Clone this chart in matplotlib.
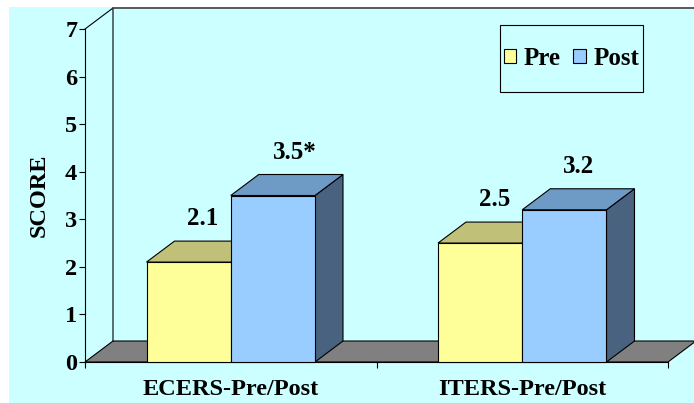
import matplotlib
matplotlib.use("Agg")
import matplotlib.pyplot as plt
from matplotlib.patches import Polygon, Rectangle, Patch

# ---- data ----
categories = ["ECERS-Pre/Post", "ITERS-Pre/Post"]
series_names = ["Pre", "Post"]
pre_values = [2.1, 2.5]
post_values = [3.5, 3.2]
value_labels_pre = ["2.1", "2.5"]
value_labels_post = ["3.5*", "3.2"]
y_ticks = [0, 1, 2, 3, 4, 5, 6, 7]

# ---- styles ----
FONT = "Liberation Serif"
FS = 17.5
front_colors = ["#FFFF99", "#99CCFF"]
top_colors = ["#C0C078", "#6E9AC6"]
side_colors = ["#80804C", "#48627F"]
BG = "#CCFFFF"
FLOOR = "#808080"
LW = 0.8

W, H = 694, 403
fig = plt.figure(figsize=(W / 100, H / 100), dpi=100)
fig.patch.set_facecolor("white")
fig.add_artist(Rectangle((9 / W, 0), (W - 9) / W, 1 - 7 / H, transform=fig.transFigure,
                         facecolor=BG, edgecolor="none", zorder=-10))

ax_l, ax_r, ax_t, ax_b = 85, 668, 29, 362
ax = fig.add_axes([ax_l / W, 1 - ax_b / H, (ax_r - ax_l) / W, (ax_b - ax_t) / H])
ax.patch.set_alpha(0)
xmin, xmax, ymin, ymax = -0.5, 1.5, 0, 7
ax.set_xlim(xmin, xmax)
ax.set_ylim(ymin, ymax)

# depth of the 3D effect (28 px right, 21 px up) in data units
DX = 28 * (xmax - xmin) / (ax_r - ax_l)
DY = 21 * (ymax - ymin) / (ax_b - ax_t)

# floor
ax.add_patch(Polygon([(xmin, 0), (xmax, 0), (xmax + DX, DY), (xmin + DX, DY)],
                     closed=True, facecolor=FLOOR, edgecolor="black", lw=LW,
                     clip_on=False, zorder=1))
# walls
ax.plot([xmin, xmin + DX, xmin + DX], [ymax, ymax + DY, DY], color="black", lw=LW,
        clip_on=False, zorder=1)
ax.plot([xmin + DX, xmax + DX], [ymax + DY, ymax + DY], color="#404040", lw=1.2,
        clip_on=False, zorder=1)

BW = 0.289


def bar3d(x0, h, i):
    x1 = x0 + BW
    side = Polygon([(x1, 0), (x1 + DX, DY), (x1 + DX, h + DY), (x1, h)], closed=True,
                   facecolor=side_colors[i], edgecolor="black", lw=LW, clip_on=False, zorder=3)
    top = Polygon([(x0, h), (x1, h), (x1 + DX, h + DY), (x0 + DX, h + DY)], closed=True,
                  facecolor=top_colors[i], edgecolor="black", lw=LW, clip_on=False, zorder=3)
    front = Rectangle((x0, 0), BW, h, facecolor=front_colors[i], edgecolor="black",
                      lw=LW, clip_on=False, zorder=4)
    for p in (side, top, front):
        ax.add_patch(p)


for c in range(len(categories)):
    bar3d(c - BW, pre_values[c], 0)
    bar3d(c, post_values[c], 1)

label_kw = dict(textcoords="offset points", ha="center", va="baseline",
                fontsize=18, fontweight="bold", family=FONT, zorder=6,
                annotation_clip=False)
for c in range(len(categories)):
    ax.annotate(value_labels_pre[c], (c - BW / 2 + DX / 2, pre_values[c] + DY),
                xytext=(0, 11.5), **label_kw)
    lab = value_labels_post[c]
    shift = 5.5 if lab.endswith("*") else 0
    ax.annotate(lab, (c + BW / 2 + DX / 2, post_values[c] + DY),
                xytext=(shift, 11.5), **label_kw)

# axes / ticks
for s in ("top", "right"):
    ax.spines[s].set_visible(False)
ax.spines["left"].set_linewidth(LW)
ax.spines["bottom"].set_linewidth(LW)
ax.set_yticks(y_ticks)
ax.set_yticklabels([str(t) for t in y_ticks], fontsize=FS, fontweight="bold", family=FONT)
ax.tick_params(axis="y", length=4, width=LW, pad=1.5, direction="out")
ax.set_xticks([-0.5, 0.5, 1.5])
ax.set_xticklabels([])
ax.set_xticks([0, 1], minor=True)
ax.set_xticklabels(categories, minor=True, fontsize=FS, fontweight="bold", family=FONT)
ax.tick_params(axis="x", which="major", length=4, width=LW, direction="out")
ax.tick_params(axis="x", which="minor", length=0, pad=12)
ax.set_ylabel("SCORE", fontsize=FS, fontweight="bold", family=FONT, labelpad=11)

# legend
fig.add_artist(Rectangle((500 / W, 1 - 92 / H), 143 / W, 67 / H, transform=fig.transFigure,
                         facecolor=BG, edgecolor="black", lw=LW, zorder=5))
handles = [Patch(facecolor=front_colors[i], edgecolor="black", lw=LW) for i in range(2)]
leg = fig.legend(handles, series_names, loc="center", bbox_to_anchor=(571.5 / W, 1 - 58.5 / H),
                 ncol=2, frameon=False, handlelength=0.5, handleheight=0.5,
                 handletextpad=0.3, columnspacing=0.5, borderpad=0.2,
                 prop=dict(family=FONT, weight="bold", size=18))
leg.set_zorder(6)

fig.savefig("out.png", dpi=100)
